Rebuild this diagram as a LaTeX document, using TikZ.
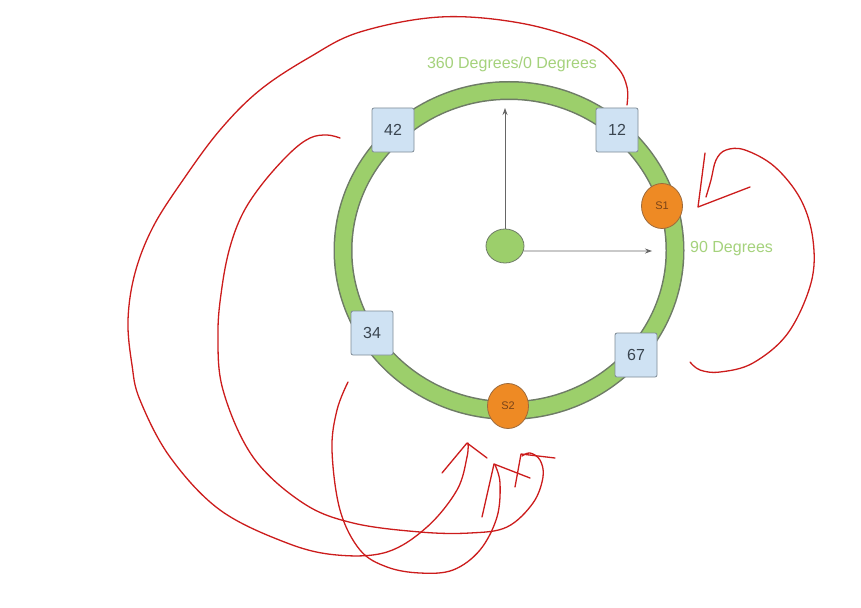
\documentclass[tikz,border=0pt]{standalone}
\usepackage{fontspec}
\setmainfont{Liberation Sans}
\usetikzlibrary{arrows.meta,shapes.geometric}
\definecolor{ringgreen}{HTML}{9CCF6B}
\definecolor{ringedge}{HTML}{6E7B66}
\definecolor{boxfill}{HTML}{CFE2F3}
\definecolor{boxedge}{HTML}{7F8B96}
\definecolor{boxtext}{HTML}{3A4550}
\definecolor{srvfill}{HTML}{EE8A24}
\definecolor{srvedge}{HTML}{9C6A3C}
\definecolor{srvtext}{HTML}{7A4418}
\definecolor{lblgreen}{HTML}{A5D27C}
\definecolor{ptrgray}{HTML}{666666}
\definecolor{handred}{HTML}{CC1C1C}
\begin{document}
\begin{tikzpicture}[x=1pt,y=-1pt,
  box/.style={draw=boxedge,fill=boxfill,rounded corners=2pt,minimum width=42pt,minimum height=44pt,inner sep=0pt,font=\fontsize{16}{16}\selectfont,text=boxtext,line width=0.8pt},
  srv/.style={ellipse,draw=srvedge,fill=srvfill,minimum width=41pt,minimum height=45pt,inner sep=0pt,font=\fontsize{11}{11}\selectfont,text=srvtext,line width=0.8pt},
  lbl/.style={text=lblgreen,font=\fontsize{16}{16}\selectfont,inner sep=0pt},
  hand/.style={draw=handred,line width=1.3pt,line cap=round,line join=round},
  ptr/.style={draw=ptrgray,line width=0.8pt,-{Stealth[length=7pt,width=5pt]}}]
\useasboundingbox (0,0) rectangle (861,607);
\fill[white] (0,0) rectangle (861,607);
% ring
\draw[ringedge,line width=19pt] (509,250.5) ellipse [x radius=166pt,y radius=160pt];
\draw[ringgreen,line width=16pt] (509,250.5) ellipse [x radius=166pt,y radius=160pt];
% hub and pointers
\node[ellipse,draw=ringedge,fill=ringgreen,minimum width=38pt,minimum height=34pt,inner sep=0pt,line width=0.8pt] (hub) at (505,246) {};
\coordinate (up) at (505,108);
\coordinate (right) at (652,251);
\draw[ptr] (hub.north) -- (up);
\draw[ptr] (hub.345) -- (right);
% keys and servers
\node[box] (k42) at (393,130) {42};
\node[box] (k12) at (617,130) {12};
\node[box] (k34) at (372,333) {34};
\node[box] (k67) at (636,355) {67};
\node[srv] (s1) at (662,206) {S1};
\node[srv] (s2) at (508,406) {S2};
% labels
\node[lbl] (l360) at (512,64) {360 Degrees/0 Degrees};
\node[lbl,anchor=west] (l90) at (690,249) {90 Degrees};
% hand-drawn annotations
\draw[hand] plot[smooth,tension=0.6] coordinates {(627,105) (627,87) (617,67) (587,43) (520,23) (440,17) (360,32) (310,57) (260,90) (220,130) (183,180) (153,227) (135,273) (128,320) (132,365) (140,400) (170,457) (220,510) (287,543) (337,555) (387,552) (427,527) (457,490) (467,457) (468,443)};
\draw[hand] (442,473) -- (467,443) -- (487,458);
\draw[hand] plot[smooth,tension=0.6] coordinates {(340,138) (327,135) (310,138) (290,153) (263,183) (243,213) (230,247) (222,287) (218,333) (223,390) (253,457) (303,503) (353,523) (420,532) (470,533) (507,527) (533,503) (543,477) (540,460) (530,453) (522,456)};
\draw[hand] (515,487) -- (521,454) -- (555,458);
\draw[hand] plot[smooth,tension=0.6] coordinates {(348,382) (337,410) (332,450) (340,510) (360,550) (387,567) (420,573) (453,570) (480,550) (497,517) (500,483) (495,465)};
\draw[hand] (482,517) -- (494,464) -- (530,478);
\draw[hand] plot[smooth,tension=0.6] coordinates {(690,362) (700,370) (720,372) (753,363) (788,333) (811,283) (813,240) (801,200) (775,167) (745,150) (726,150) (716,160) (711,180) (706,197)};
\draw[hand] (705,153) -- (698,207) -- (750,187);
\end{tikzpicture}
\end{document}
